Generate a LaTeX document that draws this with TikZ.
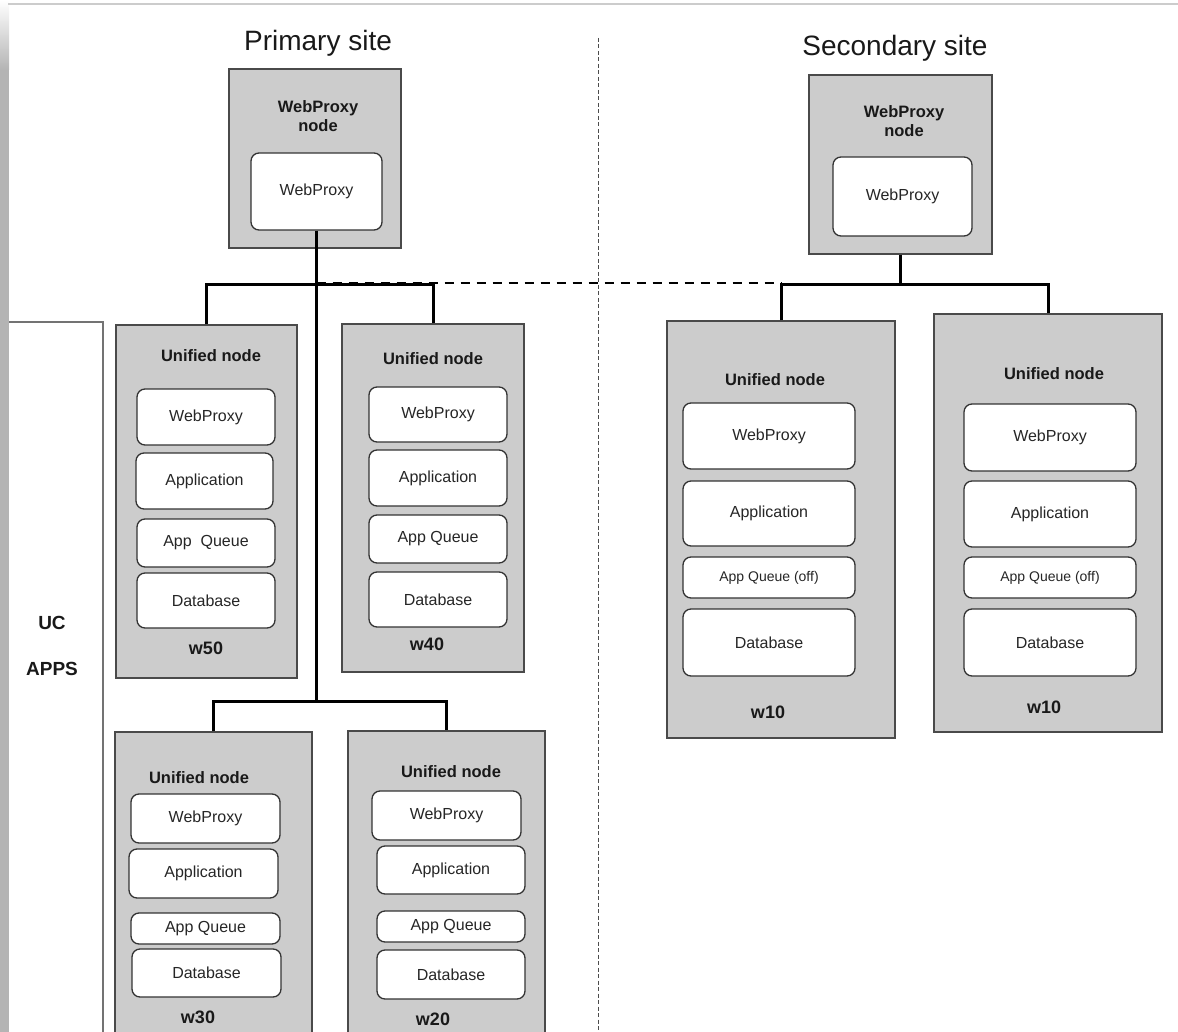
\documentclass[tikz,border=0pt]{standalone}
\usepackage{fontspec}
\setmainfont{Liberation Sans}
\usetikzlibrary{fit}
\definecolor{boxgray}{HTML}{CCCCCC}
\definecolor{edgegray}{HTML}{4A4A4A}
\definecolor{inedge}{HTML}{333333}
\definecolor{framegray}{HTML}{B4B4B4}
\begin{document}
\begin{tikzpicture}[x=1pt,y=-1pt,
  gbox/.style={draw=edgegray, fill=boxgray, line width=1.3pt, inner sep=0pt},
  rbox/.style={draw=inedge, fill=white, line width=1.3pt, rounded corners=8pt, inner sep=0pt,
    label={[font=\fontsize{16}{19}\selectfont, text=black!85]center:#1}},
  sbox/.style={draw=inedge, fill=white, line width=1.3pt, rounded corners=8pt, inner sep=0pt,
    label={[font=\fontsize{14}{17}\selectfont, text=black!85]center:#1}},
  hdr/.style={font=\bfseries\fontsize{16.5}{19}\selectfont, align=center, text=black!90},
  wlab/.style={font=\bfseries\fontsize{18}{21}\selectfont, text=black!90},
  title/.style={font=\fontsize{28}{32}\selectfont, text=black!90},
  bus/.style={line width=3pt, black},
  link/.style={line width=2pt, black, dash pattern=on 9pt off 7pt},
  sitediv/.style={line width=1pt, black!70, dash pattern=on 4pt off 2.5pt}]
\useasboundingbox (0,0) rectangle (1178,1032);
\clip (0,0) rectangle (1178,1032);

% screenshot frame
\shade[top color=white, bottom color=framegray] (0,0) rectangle (9,70);
\fill[framegray] (0,70) rectangle (9,1032);
\draw[black!20, line width=1.5pt] (8,4) -- (1178,4);

% UC APPS bracket
\draw[black!55, line width=1.2pt] (9,322) -- (103,322) -- (103,1036);
\node[wlab, font=\bfseries\fontsize{19}{22}\selectfont] (uc) at (52,623) {UC};
\node[wlab, font=\bfseries\fontsize{19}{22}\selectfont] (apps) at (52,669) {APPS};

% site divider
\coordinate (divtop) at (598,38);
\coordinate (divbot) at (598,1036);
\draw[sitediv] (divtop) -- (divbot);

% titles
\node[title] (ptitle) at (318,43) {Primary site};
\node[title] (stitle) at (895,48) {Secondary site};

% primary webproxy node
\node[gbox, fit={(229,69) (401,248)}] (pwp) {};
\node[hdr] (pwpt) at (318,116) {WebProxy\\node};
\node[rbox=WebProxy, fit={(251,153) (382,230)}] (pwpi) {};

% secondary webproxy node
\node[gbox, fit={(809,75) (992,254)}] (swp) {};
\node[hdr] (swpt) at (904,121) {WebProxy\\node};
\node[rbox=WebProxy, fit={(833,157) (972,236)}] (swpi) {};

% w50
\node[gbox, fit={(116,325) (297,678)}] (w50) {};
\node[hdr] (w50h) at (211,356) {Unified node};
\node[rbox=WebProxy, fit={(137,389) (275,445)}] (w50a) {};
\node[rbox=Application, fit={(136,453) (273,509)}] (w50b) {};
\node[rbox={App\ \ Queue}, fit={(137,519) (275,567)}] (w50c) {};
\node[rbox=Database, fit={(137,573) (275,628)}] (w50d) {};
\node[wlab] (w50l) at (206,648) {w50};

% w40
\node[gbox, fit={(342,324) (524,672)}] (w40) {};
\node[hdr] (w40h) at (433,359) {Unified node};
\node[rbox=WebProxy, fit={(369,387) (507,442)}] (w40a) {};
\node[rbox=Application, fit={(369,450) (507,506)}] (w40b) {};
\node[rbox={App Queue}, fit={(369,515) (507,563)}] (w40c) {};
\node[rbox=Database, fit={(369,572) (507,627)}] (w40d) {};
\node[wlab] (w40l) at (427,644) {w40};

% w30
\node[gbox, fit={(115,732) (312,1040)}] (w30) {};
\node[hdr] (w30h) at (199,778) {Unified node};
\node[rbox=WebProxy, fit={(131,794) (280,843)}] (w30a) {};
\node[rbox=Application, fit={(129,849) (278,898)}] (w30b) {};
\node[rbox={App Queue}, fit={(131,913) (280,944)}] (w30c) {};
\node[rbox=Database, fit={(132,949) (281,997)}] (w30d) {};
\node[wlab] (w30l) at (198,1017) {w30};

% w20
\node[gbox, fit={(348,731) (545,1040)}] (w20) {};
\node[hdr] (w20h) at (451,772) {Unified node};
\node[rbox=WebProxy, fit={(372,791) (521,840)}] (w20a) {};
\node[rbox=Application, fit={(377,846) (525,894)}] (w20b) {};
\node[rbox={App Queue}, fit={(377,911) (525,942)}] (w20c) {};
\node[rbox=Database, fit={(377,950) (525,999)}] (w20d) {};
\node[wlab] (w20l) at (433,1019) {w20};

% secondary w10 (left)
\node[gbox, fit={(667,321) (895,738)}] (s1) {};
\node[hdr] (s1h) at (775,380) {Unified node};
\node[rbox=WebProxy, fit={(683,403) (855,469)}] (s1a) {};
\node[rbox=Application, fit={(683,481) (855,546)}] (s1b) {};
\node[sbox={App Queue (off)}, fit={(683,557) (855,598)}] (s1c) {};
\node[rbox=Database, fit={(683,609) (855,676)}] (s1d) {};
\node[wlab] (s1l) at (768,712) {w10};

% secondary w10 (right)
\node[gbox, fit={(934,314) (1162,732)}] (s2) {};
\node[hdr] (s2h) at (1054,374) {Unified node};
\node[rbox=WebProxy, fit={(964,404) (1136,471)}] (s2a) {};
\node[rbox=Application, fit={(964,481) (1136,547)}] (s2b) {};
\node[sbox={App Queue (off)}, fit={(964,557) (1136,598)}] (s2c) {};
\node[rbox=Database, fit={(964,609) (1136,676)}] (s2d) {};
\node[wlab] (s2l) at (1044,707) {w10};

% junction coordinates
\coordinate (pbus) at (316.5,285);
\coordinate (pbus2) at (316.5,701);
\coordinate (sbus) at (900.5,285);
\coordinate (linkstart) at (316.5,283);

% primary connectors
\draw[bus] (pwpi.south) -- (pbus) -- (pbus2);
\draw[bus] (w50.north) -- (w50.north |- pbus) -- (w40.north |- pbus) -- (w40.north);
\draw[bus] (w30.north) -- (w30.north |- pbus2) -- (w20.north |- pbus2) -- (w20.north);

% secondary connectors
\draw[bus] (swp.south) -- (sbus);
\draw[bus] (s1.north) -- (s1.north |- sbus) -- (s2.north |- sbus) -- (s2.north);

% inter-site link (dashed)
\draw[link] (linkstart) -- (s1.north |- linkstart);
\end{tikzpicture}
\end{document}
